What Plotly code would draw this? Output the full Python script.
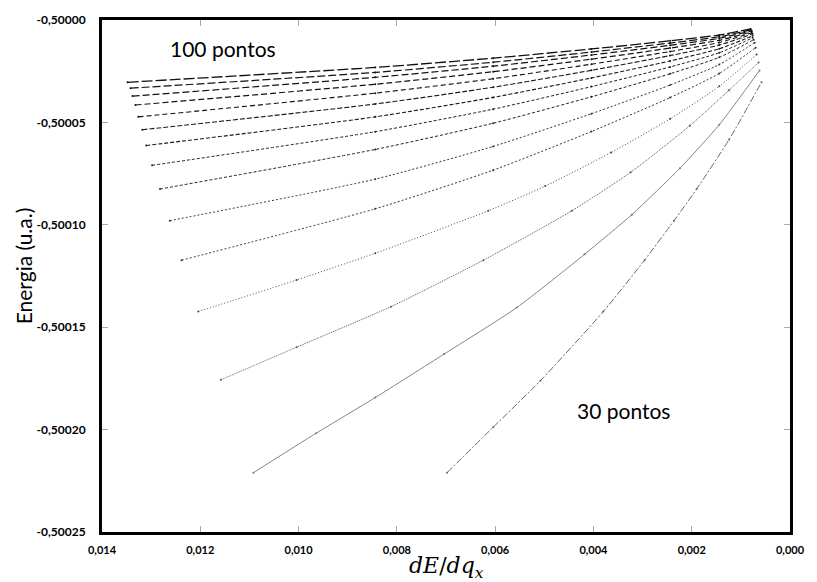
import plotly.graph_objects as go

# ---- data (dE/dq_x , Energy in a.u.) ----
labels = ["100", "95", "90", "85", "80", "75", "70", "65", "60", "55", "50", "45", "40", "35", "30"]

x100 = [0.01348, 0.00844, 0.00604, 0.00404, 0.00244, 0.00144, 0.00080]
e100 = [-0.50003041, -0.50002317, -0.50001863, -0.50001414, -0.50001018, -0.50000734, -0.50000434]
x95 = [0.01342, 0.00844, 0.00604, 0.00404, 0.00244, 0.00144, 0.00080]
e95 = [-0.50003330, -0.50002558, -0.50002061, -0.50001564, -0.50001125, -0.50000816, -0.50000483]
x90 = [0.01338, 0.00844, 0.00604, 0.00404, 0.00244, 0.00144, 0.00078]
e90 = [-0.50003716, -0.50002799, -0.50002254, -0.50001708, -0.50001236, -0.50000893, -0.50000531]
x85 = [0.01332, 0.00844, 0.00604, 0.00404, 0.00244, 0.00144, 0.00078]
e85 = [-0.50004151, -0.50003137, -0.50002524, -0.50001911, -0.50001371, -0.50000989, -0.50000579]
x80 = [0.01326, 0.00844, 0.00604, 0.00404, 0.00244, 0.00144, 0.00078]
e80 = [-0.50004730, -0.50003571, -0.50002867, -0.50002157, -0.50001540, -0.50001100, -0.50000627]
x75 = [0.01318, 0.00844, 0.00604, 0.00404, 0.00244, 0.00144, 0.00076]
e75 = [-0.50005357, -0.50004102, -0.50003282, -0.50002457, -0.50001737, -0.50001226, -0.50000676]
x70 = [0.01310, 0.00844, 0.00604, 0.00404, 0.00244, 0.00144, 0.00076]
e70 = [-0.50006129, -0.50004730, -0.50003779, -0.50002828, -0.50001998, -0.50001404, -0.50000772]
x65 = [0.01298, 0.00844, 0.00604, 0.00404, 0.00244, 0.00144, 0.00076]
e65 = [-0.50007095, -0.50005454, -0.50004353, -0.50003253, -0.50002292, -0.50001602, -0.50000869]
x60 = [0.01282, 0.00844, 0.00604, 0.00404, 0.00244, 0.00144, 0.00074]
e60 = [-0.50008253, -0.50006322, -0.50005039, -0.50003750, -0.50002625, -0.50001824, -0.50000965]
x55 = [0.01262, 0.00844, 0.00604, 0.00404, 0.00244, 0.00144, 0.00072]
e55 = [-0.50009797, -0.50007770, -0.50006173, -0.50004575, -0.50003176, -0.50002177, -0.50001110]
x50 = [0.01238, 0.00844, 0.00604, 0.00404, 0.00244, 0.00144, 0.00070]
e50 = [-0.50011728, -0.50009218, -0.50007331, -0.50005444, -0.50003789, -0.50002611, -0.50001351]
x45 = [0.01204, 0.01004, 0.00844, 0.00614, 0.00498, 0.00364, 0.00244, 0.00144, 0.00068]
e45 = [-0.50014237, -0.50012693, -0.50011390, -0.50009315, -0.50008108, -0.50006467, -0.50004826, -0.50003234, -0.50001689]
x40 = [0.01158, 0.01004, 0.00812, 0.00624, 0.00444, 0.00324, 0.00204, 0.00124, 0.00064]
e40 = [-0.50017568, -0.50015975, -0.50013996, -0.50011728, -0.50009315, -0.50007432, -0.50005164, -0.50003427, -0.50002075]
x35 = [0.01092, 0.00964, 0.00844, 0.00704, 0.00556, 0.00418, 0.00322, 0.00224, 0.00144, 0.00062]
e35 = [-0.50022104, -0.50020174, -0.50018436, -0.50016313, -0.50014044, -0.50011438, -0.50009508, -0.50007239, -0.50005116, -0.50002461]
x30 = [0.00698, 0.00604, 0.00508, 0.00380, 0.00296, 0.00236, 0.00190, 0.00124, 0.00058]
e30 = [-0.50022104, -0.50019884, -0.50017616, -0.50014237, -0.50011728, -0.50009797, -0.50008253, -0.50005840, -0.50003041]

xs = [x100, x95, x90, x85, x80, x75, x70, x65, x60, x55, x50, x45, x40, x35, x30]
es = [e100, e95, e90, e85, e80, e75, e70, e65, e60, e55, e50, e45, e40, e35, e30]

x_ticks = [0.014, 0.012, 0.010, 0.008, 0.006, 0.004, 0.002, 0.000]
x_tick_labels = ["0,014", "0,012", "0,010", "0,008", "0,006", "0,004", "0,002", "0,000"]
y_ticks = [-0.50000, -0.50005, -0.50010, -0.50015, -0.50020, -0.50025]
y_tick_labels = ["-0,50000", "-0,50005", "-0,50010", "-0,50015", "-0,50020", "-0,50025"]

# ---- styles ----
dashes = ["11px,3px", "8px,3px", "7px,3px", "6px,3px", "5px,3px", "5px,2px", "4px,2px",
          "3px,2px", "3px,2px", "2px,2px", "2px,2px", "1px,2px", "1px,1px", "solid",
          "7px,2px,2px,2px"]
colors = ["#111", "#111", "#111", "#111", "#111", "#1a1a1a", "#1a1a1a", "#222",
          "#222", "#333", "#333", "#444", "#555", "#777", "#666"]
widths = [1.3, 1.2, 1.2, 1.2, 1.1, 1.1, 1.1, 1.0, 1.0, 1.0, 1.0, 1.0, 1.0, 0.9, 1.0]

fig = go.Figure()
for lab, x, e, d, c, w in zip(labels, xs, es, dashes, colors, widths):
    fig.add_trace(go.Scatter(
        x=x, y=e, mode="lines+markers", name=lab + " pontos",
        line=dict(color=c, width=w, dash=d, shape="spline", smoothing=0.6),
        marker=dict(size=2, color=c),
        showlegend=False,
    ))

axis_common = dict(
    showline=True, linewidth=3, linecolor="black", mirror="ticks",
    ticks="inside", ticklen=6, tickwidth=1, tickcolor="#aaaaaa",
    showgrid=False, zeroline=False,
)
fig.update_xaxes(range=[0.014, 0.0], tickvals=x_ticks, ticktext=x_tick_labels,
                 ticklabelstandoff=6,
                 tickfont=dict(family="Lato", size=11, color="black", weight="bold"),
                 **axis_common)
fig.update_yaxes(range=[-0.50025, -0.50000], tickvals=y_ticks, ticktext=y_tick_labels,
                 ticklabelstandoff=11,
                 tickfont=dict(family="Lato", size=12, color="black", weight="bold"),
                 **axis_common)

fig.add_annotation(x=0.01154, y=-0.500014, xref="x", yref="y", text="100 pontos",
                   showarrow=False, font=dict(family="Lato", size=21, color="black"))
fig.add_annotation(x=0.00338, y=-0.5001906, xref="x", yref="y", text="30 pontos",
                   showarrow=False, font=dict(family="Lato", size=21, color="black"))
fig.add_annotation(x=0.5, y=-0.07, xref="paper", yref="paper",
                   text="<i>dE</i>/<i>dq<sub>x</sub></i>", showarrow=False,
                   yanchor="middle",
                   font=dict(family="DejaVu Serif", size=22, color="black"))
fig.add_annotation(x=-0.114, y=0.52, xref="paper", yref="paper",
                   text="Energia (u.a.)", textangle=-90, showarrow=False,
                   xanchor="center", yanchor="middle",
                   font=dict(family="Lato", size=21, color="black"))

fig.update_layout(
    width=817, height=582,
    margin=dict(l=102, r=15, t=14, b=50),
    paper_bgcolor="white", plot_bgcolor="white",
)
fig.write_html("out.html")
